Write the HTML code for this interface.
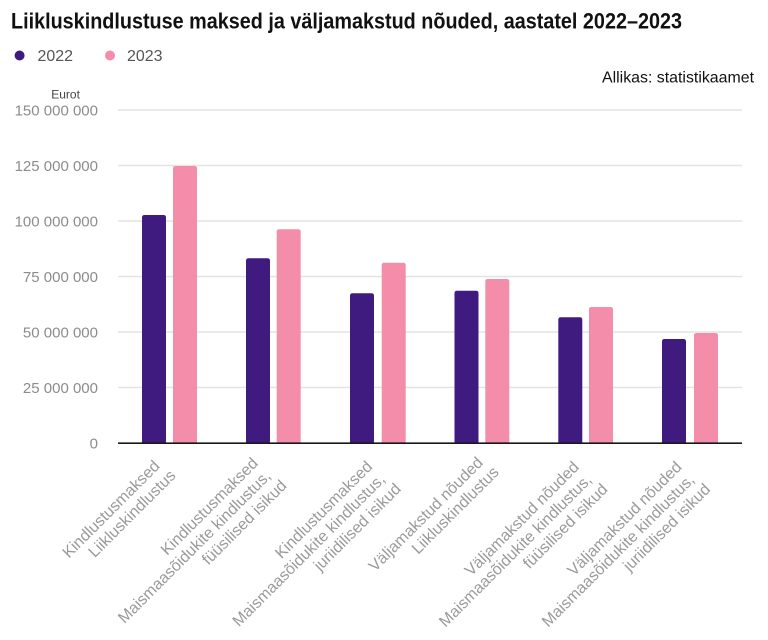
<!DOCTYPE html>
<html>
<head>
<meta charset="utf-8">
<style>
  html, body { margin: 0; padding: 0; background: #ffffff; }
  body { width: 768px; height: 640px; overflow: hidden; }
  svg { display: block; }
  text { font-family: "Liberation Sans", Arial, sans-serif; }
</style>
</head>
<body>
<svg width="768" height="640" viewBox="0 0 768 640" xmlns="http://www.w3.org/2000/svg">
  <rect x="0" y="0" width="768" height="640" fill="#ffffff"/>

  <!-- Title -->
  <text x="11" y="28.4" font-size="22" font-weight="bold" fill="#111111" textLength="671" lengthAdjust="spacingAndGlyphs">Liikluskindlustuse maksed ja väljamakstud nõuded, aastatel 2022–2023</text>

  <!-- Legend -->
  <circle cx="19.6" cy="55.5" r="5" fill="#3f1b7f"/>
  <text x="37.5" y="61" font-size="16" fill="#555555" textLength="35.5" lengthAdjust="spacingAndGlyphs">2022</text>
  <circle cx="110" cy="55.5" r="5" fill="#f48da9"/>
  <text x="127" y="61" font-size="16" fill="#555555" textLength="35.5" lengthAdjust="spacingAndGlyphs">2023</text>

  <!-- Source -->
  <text x="754" y="82.7" font-size="16" fill="#111111" text-anchor="end" textLength="152" lengthAdjust="spacingAndGlyphs">Allikas: statistikaamet</text>

  <!-- Axis unit -->
  <text x="65.6" y="98.6" font-size="12" fill="#444444" text-anchor="middle">Eurot</text>

  <!-- Gridlines -->
  <g stroke="#e3e3e3" stroke-width="1.5">
    <line x1="118" y1="110" x2="742" y2="110"/>
    <line x1="118" y1="165.5" x2="742" y2="165.5"/>
    <line x1="118" y1="221" x2="742" y2="221"/>
    <line x1="118" y1="276.5" x2="742" y2="276.5"/>
    <line x1="118" y1="332" x2="742" y2="332"/>
    <line x1="118" y1="387.5" x2="742" y2="387.5"/>
  </g>

  <!-- Y labels -->
  <g font-size="15" fill="#8c8c8c" text-anchor="end">
    <text x="98" y="115.4">150 000 000</text>
    <text x="98" y="170.9">125 000 000</text>
    <text x="98" y="226.4">100 000 000</text>
    <text x="98" y="281.9">75 000 000</text>
    <text x="98" y="337.4">50 000 000</text>
    <text x="98" y="392.9">25 000 000</text>
    <text x="98" y="448.4">0</text>
  </g>

  <!-- Bars 2022 -->
  <g fill="#3f1b7f">
    <path d="M142,443 V217.5 Q142,215 144.5,215 H163.5 Q166,215 166,217.5 V443 Z"/>
    <path d="M246,443 V260.8 Q246,258.3 248.5,258.3 H267.5 Q270,258.3 270,260.8 V443 Z"/>
    <path d="M350,443 V295.8 Q350,293.3 352.5,293.3 H371.5 Q374,293.3 374,295.8 V443 Z"/>
    <path d="M454.5,443 V293.2 Q454.5,290.7 457,290.7 H476 Q478.5,290.7 478.5,293.2 V443 Z"/>
    <path d="M558.3,443 V319.8 Q558.3,317.3 560.8,317.3 H579.8 Q582.3,317.3 582.3,319.8 V443 Z"/>
    <path d="M662,443 V341.5 Q662,339 664.5,339 H683.5 Q686,339 686,341.5 V443 Z"/>
  </g>

  <!-- Bars 2023 -->
  <g fill="#f48da9">
    <path d="M173,443 V168.5 Q173,166 175.5,166 H194.5 Q197,166 197,168.5 V443 Z"/>
    <path d="M276.7,443 V231.8 Q276.7,229.3 279.2,229.3 H298.2 Q300.7,229.3 300.7,231.8 V443 Z"/>
    <path d="M381.7,443 V265.2 Q381.7,262.7 384.2,262.7 H403.2 Q405.7,262.7 405.7,265.2 V443 Z"/>
    <path d="M485.3,443 V281.5 Q485.3,279 487.8,279 H506.8 Q509.3,279 509.3,281.5 V443 Z"/>
    <path d="M589,443 V309.5 Q589,307 591.5,307 H610.5 Q613,307 613,309.5 V443 Z"/>
    <path d="M694,443 V335.5 Q694,333 696.5,333 H715.5 Q718,333 718,335.5 V443 Z"/>
  </g>

  <!-- Axis line -->
  <line x1="118" y1="443.2" x2="742" y2="443.2" stroke="#1a1a1a" stroke-width="1.6"/>

  <!-- X labels (rotated) -->
  <g font-size="16" fill="#9a9a9a" text-anchor="end">
    <text transform="translate(163.8,463.8) rotate(-45)">
      <tspan x="0" y="0">Kindlustusmaksed</tspan>
      <tspan x="0" y="18">Liikluskindlustus</tspan>
    </text>
    <text transform="translate(262.1,461.1) rotate(-45)">
      <tspan x="0" y="0">Kindlustusmaksed</tspan>
      <tspan x="0" y="18">Maismaasõidukite kindlustus,</tspan>
      <tspan x="0" y="36">füüsilised isikud</tspan>
    </text>
    <text transform="translate(376.4,464.4) rotate(-45)">
      <tspan x="0" y="0">Kindlustusmaksed</tspan>
      <tspan x="0" y="18">Maismaasõidukite kindlustus,</tspan>
      <tspan x="0" y="36">juriidilised isikud</tspan>
    </text>
    <text transform="translate(487.1,460.4) rotate(-45)">
      <tspan x="0" y="0">Väljamakstud nõuded</tspan>
      <tspan x="0" y="18">Liikluskindlustus</tspan>
    </text>
    <text transform="translate(583.1,464.8) rotate(-45)">
      <tspan x="0" y="0">Väljamakstud nõuded</tspan>
      <tspan x="0" y="18">Maismaasõidukite kindlustus,</tspan>
      <tspan x="0" y="36">füüsilised isikud</tspan>
    </text>
    <text transform="translate(685.8,464.8) rotate(-45)">
      <tspan x="0" y="0">Väljamakstud nõuded</tspan>
      <tspan x="0" y="18">Maismaasõidukite kindlustus,</tspan>
      <tspan x="0" y="36">juriidilised isikud</tspan>
    </text>
  </g>
</svg>
</body>
</html>
